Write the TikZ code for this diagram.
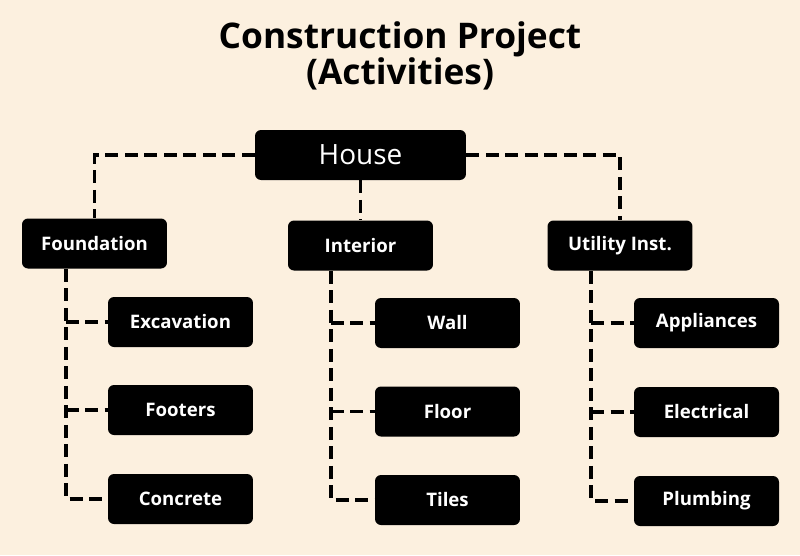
\documentclass[tikz,border=0pt]{standalone}
\usepackage{fontspec}
\setmainfont{Open Sans}
\definecolor{paper}{HTML}{FCF0DF}

\begin{document}
\begin{tikzpicture}[x=0.02cm, y=-0.02cm,
    box/.style={fill=black, text=white, rounded corners=0.12cm, minimum width=2.9cm, minimum height=1cm, inner sep=0pt, font=\fontsize{10.6}{12}\selectfont\bfseries},
    link/.style={line width=2.2pt, dash pattern=on 7.4pt off 3.7pt}]
		\fill [paper] (0, 0) rectangle (800, 555); % Bakgrund
		
		\node [anchor=base, font=\fontsize{20.1}{22}\selectfont\bfseries] (title1) at (400, 48.5) {Construction Project}; % Rubrik
		\node [anchor=base, font=\fontsize{20.1}{22}\selectfont\bfseries] (title2) at (400, 84.5) {(Activities)};
		
		\node [box, minimum width=4.22cm, font=\fontsize{15.9}{18}\selectfont] (house) at (360.5, 155) {House}; % Huset
		
		\node [box] (found) at (94.5, 243.5) {Foundation}; % Första nivån
		\node [box] (inter) at (360.5, 245.5) {Interior};
		\node [box] (util) at (620, 245.5) {Utility Inst.};
		
		\node [box] (exc) at (180.5, 322) {Excavation}; % Andra nivån
		\node [box] (foot) at (180.5, 410) {Footers};
		\node [box] (conc) at (180.5, 499) {Concrete};
		\node [box] (wall) at (447.5, 323) {Wall};
		\node [box] (floor) at (447.5, 411.5) {Floor};
		\node [box] (tiles) at (447.5, 500) {Tiles};
		\node [box] (appl) at (706.5, 323) {Appliances};
		\node [box] (elec) at (706.5, 412) {Electrical};
		\node [box] (plumb) at (706.5, 501) {Plumbing};
		
		\coordinate (foundline) at ([xshift=0.88cm]found.south west); % Hjälppunkter
		\coordinate (interline) at ([xshift=0.86cm]inter.south west);
		\coordinate (utilline) at ([xshift=0.88cm]util.south west);
		
		\draw [link] (house.west) -| (found.north); % Förbindelser
		\draw [link] (house.east) -| (util.north);
		\draw [link] (house.south) -- (inter.north);
		
		\draw [link] (foundline) |- (conc.west);
		\draw [link] (foundline |- exc.west) -- (exc.west);
		\draw [link] (foundline |- foot.west) -- (foot.west);
		\draw [link] (interline) |- (tiles.west);
		\draw [link] (interline |- wall.west) -- (wall.west);
		\draw [link] (interline |- floor.west) -- (floor.west);
		\draw [link] (utilline) |- (plumb.west);
		\draw [link] (utilline |- appl.west) -- (appl.west);
		\draw [link] (utilline |- elec.west) -- (elec.west);
	\end{tikzpicture}
\end{document}
